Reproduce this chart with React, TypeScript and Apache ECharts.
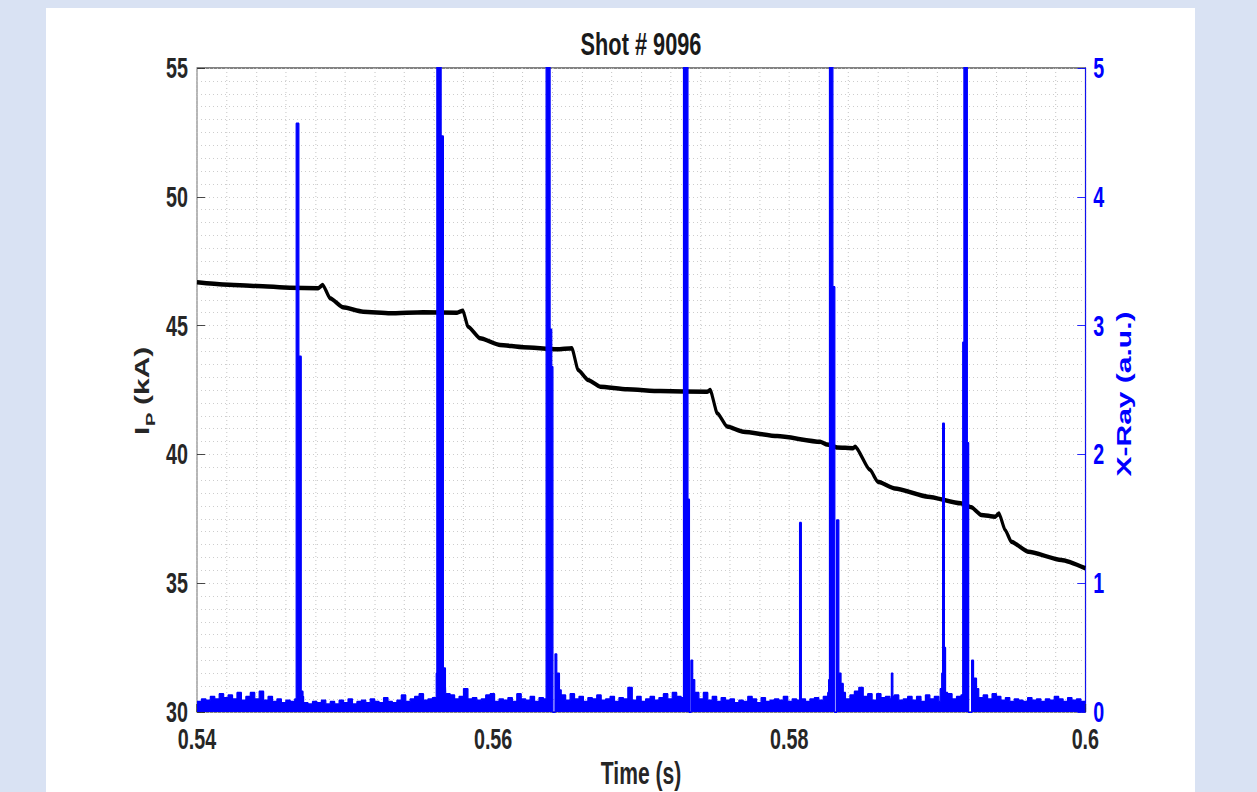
import React, { useEffect, useRef } from "react";
import * as echarts from "echarts";

const TITLE = "Shot # 9096";
const X_NAME = "Time (s)";
const Y_LEFT_MAIN = "I";
const Y_LEFT_SUB = "P";
const Y_LEFT_UNIT = "(kA)";
const Y_RIGHT_NAME = "X-Ray (a.u.)";

const X_MIN = 0.54;
const X_MAX = 0.6;
const X_INTERVAL = 0.02;
const IP_MIN = 30;
const IP_MAX = 55;
const IP_INTERVAL = 5;
const XRAY_MIN = 0;
const XRAY_MAX = 5;
const XRAY_INTERVAL = 1;

// Plasma current I_P (kA) vs time (s)
const ipCurrent: [number, number][] = [
  [0.54, 46.68], [0.54176, 46.6], [0.54405, 46.54], [0.54628, 46.47], [0.54818, 46.45],
  [0.54849, 46.58], [0.54899, 46.06], [0.54986, 45.71], [0.55122, 45.54], [0.55304, 45.48],
  [0.55527, 45.52], [0.55757, 45.5], [0.55795, 45.58], [0.55831, 44.96], [0.55912, 44.51],
  [0.56047, 44.25], [0.56203, 44.16], [0.56432, 44.08], [0.56532, 44.12], [0.56574, 43.28],
  [0.56642, 42.89], [0.56723, 42.63], [0.56905, 42.53], [0.57128, 42.46], [0.57446, 42.43],
  [0.57466, 42.5], [0.57514, 41.6], [0.57581, 41.08], [0.57689, 40.88], [0.57919, 40.71],
  [0.58209, 40.49], [0.58255, 40.38], [0.58324, 40.27], [0.58432, 40.24], [0.58446, 40.3],
  [0.58545, 39.4], [0.58599, 38.94], [0.58714, 38.68], [0.58936, 38.36], [0.59159, 38.1],
  [0.5923, 37.95], [0.59297, 37.65], [0.59392, 37.58], [0.59417, 37.71], [0.59458, 37.07],
  [0.595, 36.61], [0.59616, 36.22], [0.59838, 35.9], [0.6, 35.58],
];

// X-ray background signal, sampled every 0.3 ms from 0.54 s
const xrayBaseStart = 0.54;
const xrayBaseStep = 0.0003;
const xrayBaseline: number[] = [
  0.08, 0.1, 0.09, 0.12, 0.1, 0.14, 0.11, 0.13, 0.1, 0.15,
  0.09, 0.12, 0.15, 0.1, 0.16, 0.09, 0.12, 0.08, 0.1, 0.07,
  0.09, 0.08, 0.1, 0.12, 0.07, 0.06, 0.08, 0.07, 0.09, 0.06,
  0.08, 0.06, 0.09, 0.07, 0.1, 0.06, 0.08, 0.09, 0.07, 0.1,
  0.08, 0.07, 0.11, 0.08, 0.07, 0.09, 0.13, 0.08, 0.1, 0.12,
  0.14, 0.09, 0.1, 0.11, 0.15, 0.2, 0.14, 0.13, 0.1, 0.12,
  0.18, 0.1, 0.11, 0.09, 0.1, 0.13, 0.14, 0.08, 0.1, 0.09,
  0.11, 0.08, 0.14, 0.1, 0.09, 0.12, 0.08, 0.11, 0.1, 0.12,
  0.17, 0.16, 0.13, 0.09, 0.14, 0.1, 0.12, 0.08, 0.11, 0.1,
  0.13, 0.09, 0.1, 0.12, 0.08, 0.11, 0.1, 0.19, 0.09, 0.12,
  0.08, 0.1, 0.12, 0.09, 0.11, 0.14, 0.1, 0.15, 0.12, 0.11,
  0.15, 0.18, 0.15, 0.1, 0.15, 0.09, 0.12, 0.08, 0.11, 0.09,
  0.1, 0.07, 0.09, 0.08, 0.12, 0.1, 0.07, 0.11, 0.08, 0.09,
  0.1, 0.09, 0.12, 0.08, 0.1, 0.09, 0.12, 0.08, 0.1, 0.11,
  0.09, 0.12, 0.15, 0.2, 0.14, 0.12, 0.1, 0.13, 0.16, 0.19,
  0.12, 0.14, 0.09, 0.14, 0.11, 0.12, 0.1, 0.13, 0.09, 0.1,
  0.12, 0.09, 0.12, 0.08, 0.13, 0.1, 0.12, 0.08, 0.11, 0.14,
  0.1, 0.12, 0.13, 0.16, 0.14, 0.12, 0.11, 0.13, 0.1, 0.14,
  0.12, 0.09, 0.11, 0.08, 0.1, 0.09, 0.08, 0.11, 0.09, 0.1,
  0.08, 0.1, 0.09, 0.12, 0.1, 0.08, 0.11, 0.09, 0.1, 0.08, 0.07,
];

// X-ray bursts: [time (s), signal (a.u.)]; values above 5 run off the top of the axis
const xraySpikes: [number, number][][] = [
  [[0.5467, 4.57], [0.54688, 2.76], [0.54704, 0.16], [0.54716, 0.12]],
  [[0.55616, 0.3], [0.5562, 6], [0.55649, 4.47], [0.55664, 0.34], [0.55678, 0.2]],
  [[0.56358, 6], [0.56385, 2.97], [0.56396, 2.68], [0.56404, -0.3], [0.56418, 0.45], [0.5643, 0.3], [0.56448, 0.17]],
  [[0.57286, 6], [0.57316, 1.65], [0.57326, -0.3], [0.57336, 0.4], [0.57348, 0.25], [0.57362, 0.15]],
  [[0.5807, 1.47], [0.58082, 0.1]],
  [[0.58266, 0.25], [0.58272, 6], [0.58295, 3.3], [0.58308, -0.3], [0.5832, 1.49], [0.58335, 0.3], [0.5835, 0.22], [0.58365, 0.15]],
  [[0.5869, 0.3], [0.587, 0.12]],
  [[0.5902, 0.18], [0.5903, 0.3], [0.59036, 2.24], [0.59048, 0.5], [0.59056, 0.15]],
  [[0.59172, 2.87], [0.5918, 6], [0.59203, 2.09], [0.59212, -0.3], [0.59232, 0.4], [0.59245, 0.26], [0.59265, 0.18]],
];

function buildXray(): [number, number][] {
  const ranges = xraySpikes.map((s) => [s[0][0], s[s.length - 1][0]]);
  const pts: [number, number][] = [];
  xrayBaseline.forEach((v, i) => {
    const t = +(xrayBaseStart + i * xrayBaseStep).toFixed(5);
    if (!ranges.some(([a, b]) => t >= a && t <= b)) pts.push([t, v]);
  });
  xraySpikes.forEach((s) => s.forEach((p) => pts.push(p)));
  pts.sort((a, b) => a[0] - b[0]);
  return pts;
}

// The reference figure is horizontally compressed; draw the chart wider and squeeze it.
const SQ = 0.68;
const PAGE_W = 1257;
const PAGE_H = 792;
const px = (x: number) => x / SQ;

const FONT = "'Liberation Sans', Arial, Helvetica, sans-serif";
const BLUE = "#0000ff";
const DARK = "#262626";
const GRID_DOT = "#c4c4c4";

export default function App() {
  const ref = useRef<HTMLDivElement>(null);

  useEffect(() => {
    document.body.style.margin = "0";
    if (!ref.current) return;
    const chart = echarts.init(ref.current, undefined, { renderer: "svg" });
    const labelStyle = { fontSize: 29, lineHeight: 22, fontWeight: "bold", fontFamily: FONT, color: DARK };
    chart.setOption({
      animation: false,
      grid: {
        left: px(197), right: px(PAGE_W - 1085), top: 68, bottom: PAGE_H - 712,
        show: true, borderColor: "#5a5a5a", borderWidth: 1.3, backgroundColor: "transparent",
      },
      xAxis: {
        type: "value", min: X_MIN, max: X_MAX, interval: X_INTERVAL,
        axisLine: { show: false },
        axisTick: { show: true, inside: true, length: 8, lineStyle: { color: DARK, width: px(1) } },
        axisLabel: { ...labelStyle, margin: 16, formatter: (v: number) => String(+v.toFixed(2)) },
        splitLine: { show: true, lineStyle: { color: GRID_DOT, width: px(1), type: [1, 3] } },
        minorTick: { show: false, splitNumber: 10 },
        minorSplitLine: { show: true, lineStyle: { color: GRID_DOT, width: px(1), type: [1, 3] } },
      },
      yAxis: [
        {
          type: "value", position: "left", min: IP_MIN, max: IP_MAX, interval: IP_INTERVAL,
          axisLine: { show: false },
          axisTick: { show: true, inside: true, length: px(8), lineStyle: { color: DARK } },
          axisLabel: { ...labelStyle, margin: px(9) },
          splitLine: { show: true, lineStyle: { color: GRID_DOT, type: [px(1), px(3)] } },
          minorTick: { show: false, splitNumber: 10 },
          minorSplitLine: { show: true, lineStyle: { color: GRID_DOT, type: [px(1), px(3)] } },
        },
        {
          type: "value", position: "right", min: XRAY_MIN, max: XRAY_MAX, interval: XRAY_INTERVAL,
          axisLine: { show: true, lineStyle: { color: BLUE, width: px(1) } },
          axisTick: { show: true, inside: true, length: px(8), lineStyle: { color: BLUE } },
          axisLabel: { ...labelStyle, color: BLUE, margin: px(8) },
          splitLine: { show: false },
        },
      ],
      series: [
        {
          name: "Ip", type: "line", yAxisIndex: 0, data: ipCurrent,
          showSymbol: false, smooth: 0.2, smoothMonotone: "x",
          lineStyle: { color: "#000", width: 4.5 }, z: 2,
        },
        {
          name: "X-Ray", type: "line", yAxisIndex: 1, data: buildXray(),
          showSymbol: false, step: "end",
          lineStyle: { color: BLUE, width: 1.8 },
          areaStyle: { color: BLUE, opacity: 1 }, z: 3,
        },
      ],
      graphic: [
        {
          type: "text", x: px(641), y: 44,
          style: { text: TITLE, fontSize: 32, fontWeight: "bold", fontFamily: FONT, fill: "#1a1a1a", align: "center", verticalAlign: "middle" },
        },
        {
          type: "text", x: px(641), y: 773,
          style: { text: X_NAME, fontSize: 31, lineHeight: 26, fontWeight: "bold", fontFamily: FONT, fill: DARK, align: "center", verticalAlign: "middle" },
        },
        {
          type: "text", x: px(1124), y: 394, rotation: Math.PI / 2,
          style: { text: Y_RIGHT_NAME, fontSize: 30, fontWeight: "bold", fontFamily: FONT, fill: BLUE, align: "center", verticalAlign: "middle" },
        },
        {
          type: "group", x: px(142), y: 391, rotation: Math.PI / 2,
          children: [
            { type: "text", x: -44, y: 0, style: { text: Y_LEFT_MAIN, fontSize: 30, fontWeight: "bold", fontFamily: FONT, fill: DARK, align: "left", verticalAlign: "middle" } },
            { type: "text", x: -35, y: 13, style: { text: Y_LEFT_SUB, fontSize: 20, fontWeight: "bold", fontFamily: FONT, fill: DARK, align: "left", verticalAlign: "middle" } },
            { type: "text", x: -14, y: 0, style: { text: Y_LEFT_UNIT, fontSize: 30, fontWeight: "bold", fontFamily: FONT, fill: DARK, align: "left", verticalAlign: "middle" } },
          ],
        },
      ],
    });
    return () => chart.dispose();
  }, []);

  return (
    <div style={{ position: "relative", width: PAGE_W, height: PAGE_H, background: "#d9e2f3", overflow: "hidden" }}>
      <div style={{ position: "absolute", left: 46, top: 8, width: 1149, height: 784, background: "#ffffff" }} />
      <div
        ref={ref}
        style={{
          position: "absolute", left: 0, top: 0, width: px(PAGE_W), height: PAGE_H,
          transform: `scaleX(${SQ})`, transformOrigin: "0 0",
        }}
      />
    </div>
  );
}
